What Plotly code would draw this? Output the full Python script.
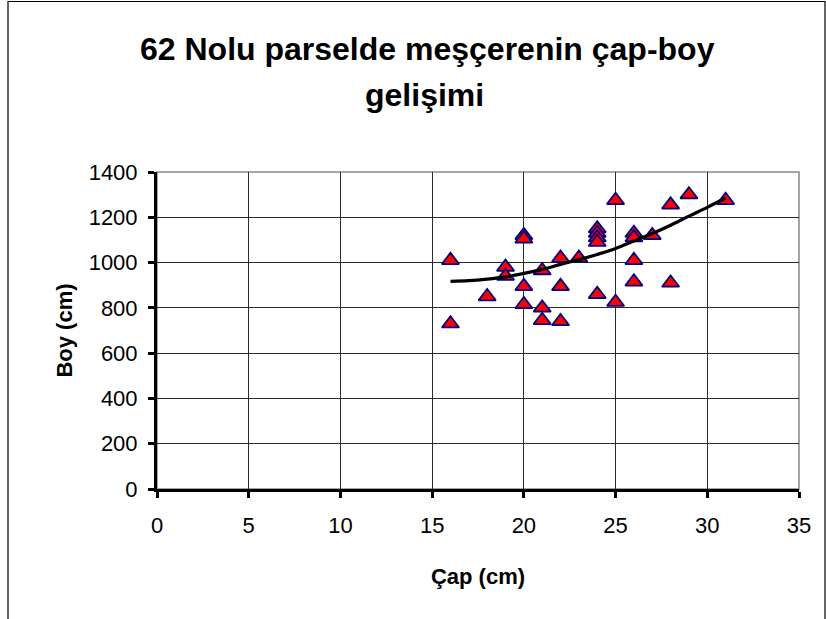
import plotly.graph_objects as go

# Measured trees: diameter (cm) and height (cm)
cap = [16, 16, 18, 19, 19, 20, 20, 20, 20, 21, 21, 21, 22, 22, 22, 23,
       24, 24, 24, 24, 24, 25, 25, 26, 26, 26, 26, 27, 28, 28, 29, 31]
boy = [1010, 730, 850, 980, 940, 1120, 1105, 895, 815, 965, 800, 745, 1020, 895, 740, 1020,
       1150, 1130, 1110, 1090, 860, 1275, 825, 1130, 1110, 1010, 915, 1120, 1255, 910, 1300, 1275]

# Trend line of height over diameter
trend_x = [16, 17, 18, 19, 20, 21, 22, 23, 24, 25, 26, 27, 28, 29, 30, 31]
trend_y = [917, 920, 927, 937, 952, 970, 992, 1013, 1036, 1062, 1095, 1128, 1165, 1205, 1244, 1285]

x_ticks = [0, 5, 10, 15, 20, 25, 30, 35]
y_ticks = [0, 200, 400, 600, 800, 1000, 1200, 1400]

title_lines = ["62 Nolu parselde meşçerenin çap-boy", "gelişimi"]

FONT = "Liberation Sans, Arial, sans-serif"

fig = go.Figure()
fig.add_trace(go.Scatter(
    x=cap, y=boy, mode="markers",
    marker=dict(symbol="triangle-up", size=15, color="#FF0000",
                line=dict(color="#000080", width=1.8)),
    showlegend=False, cliponaxis=False,
))
fig.add_trace(go.Scatter(
    x=trend_x, y=trend_y, mode="lines",
    line=dict(color="black", width=3.2, shape="spline"),
    showlegend=False,
))

L, R, T, B = 157, 27, 172, 130
W, H = 826, 619
pw, ph = W - L - R, H - T - B

def px_x(p):
    return (p - L) / pw

def px_y(p):
    return (H - B - p) / ph

annotations = [
    dict(text=title_lines[0], x=px_x(427), y=px_y(49), xref="paper", yref="paper",
         xanchor="center", yanchor="middle", showarrow=False,
         font=dict(family=FONT, size=32, color="black", weight="bold")),
    dict(text=title_lines[1], x=px_x(424), y=px_y(95), xref="paper", yref="paper",
         xanchor="center", yanchor="middle", showarrow=False,
         font=dict(family=FONT, size=32, color="black", weight="bold")),
]

fig.update_layout(
    width=W, height=H,
    margin=dict(l=L, r=R, t=T, b=B),
    paper_bgcolor="white", plot_bgcolor="white",
    font=dict(family=FONT, color="black", size=22),
    annotations=annotations,
    xaxis=dict(
        range=[0, 35], tickvals=x_ticks, ticktext=[str(v) for v in x_ticks],
        showgrid=True, gridcolor="#2a2a2a", gridwidth=1.2,
        showline=True, linecolor="black", linewidth=3,
        ticks="outside", ticklen=6, tickwidth=3, tickcolor="black",
        ticklabelstandoff=9,
        zeroline=False,
        title=dict(text="Çap (cm)", standoff=32,
                   font=dict(family=FONT, size=22, weight="bold")),
    ),
    yaxis=dict(
        range=[0, 1400], tickvals=y_ticks, ticktext=[str(v) for v in y_ticks],
        showgrid=True, gridcolor="#2a2a2a", gridwidth=1.2,
        showline=True, linecolor="black", linewidth=3,
        ticks="outside", ticklen=6, tickwidth=3, tickcolor="black",
        ticklabelstandoff=6,
        zeroline=False,
        title=dict(text="Boy (cm)", standoff=10,
                   font=dict(family=FONT, size=22, weight="bold")),
    ),
    shapes=[
        # plot area frame
        dict(type="rect", xref="paper", yref="paper", x0=0, x1=1, y0=0, y1=1,
             line=dict(color="#888888", width=1.5), layer="below"),
        # chart border
        dict(type="rect", xref="paper", yref="paper",
             x0=px_x(8), x1=px_x(825), y0=px_y(640), y1=px_y(1.5),
             line=dict(color="black", width=1.2), layer="above"),
    ],
)

fig.write_html("out.html")
